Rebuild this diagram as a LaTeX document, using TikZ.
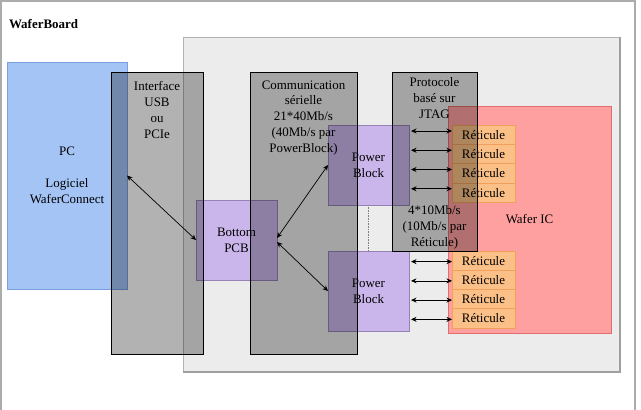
\documentclass[tikz,border=0pt]{standalone}
\usepackage{fontspec}
\setmainfont{Liberation Serif}
\usetikzlibrary{arrows.meta}
\definecolor{pcblue}{RGB}{164,196,246}
\definecolor{pcblueD}{RGB}{120,160,225}
\definecolor{purp}{RGB}{202,182,234}
\definecolor{purpD}{RGB}{150,130,180}
\definecolor{waferred}{RGB}{255,160,160}
\definecolor{waferredD}{RGB}{225,110,110}
\definecolor{reti}{RGB}{250,192,135}
\definecolor{retiD}{RGB}{240,160,90}
\definecolor{panelfill}{RGB}{236,236,236}
\begin{document}
\begin{tikzpicture}[x=1bp,y=-1bp,
  every node/.style={font=\fontsize{13}{16}\selectfont, inner sep=0pt, outer sep=0pt, align=center},
  blk/.style={rectangle, line width=0.8bp},
  panelbox/.style={blk, fill=panelfill, draw=gray!60},
  pcbox/.style={blk, fill=pcblue, draw=pcblueD},
  purpbox/.style={blk, fill=purp, draw=purpD},
  waferbox/.style={blk, fill=waferred, draw=waferredD},
  retibox/.style={blk, fill=reti, draw=retiD, minimum width=63bp, minimum height=19.25bp},
  graybox/.style={blk, fill=black, fill opacity=0.3, draw=black, draw opacity=1},
  lbl/.style={text=black},
  arr/.style={{Stealth[length=5.5bp,width=5bp]}-{Stealth[length=5.5bp,width=5bp]}, line width=0.7bp},
]
\useasboundingbox (0,0) rectangle (641,409);
\clip (0,0) rectangle (641,409);
\draw[gray!65, line width=1.3bp] (1,1) rectangle (635,440);
\node[anchor=west, font=\fontsize{13}{16}\selectfont\bfseries] (title) at (9,24) {WaferBoard};

\node[panelbox, minimum width=436bp, minimum height=334bp] (panel) at (401,204) {};
\draw[gray!75, line width=1.2bp] ([xshift=1bp]panel.north east) -- ([shift={(1bp,-1bp)}]panel.south east) -- ([yshift=-1bp]panel.south west);
\node[pcbox, minimum width=120bp, minimum height=227bp] (pc) at (67,175.5) {PC\\~\\Logiciel\\WaferConnect};
\node[purpbox, minimum width=81bp, minimum height=80bp] (pcb) at (236.5,240) {Bottom\\PCB};
\node[purpbox, minimum width=81bp, minimum height=80bp] (pbt) at (368.5,165) {Power\\Block};
\node[purpbox, minimum width=81bp, minimum height=80bp] (pbb) at (368.5,291) {Power\\Block};
\node[waferbox, minimum width=163bp, minimum height=227bp] (wafer) at (529.5,219.5) {Wafer IC};

\node[retibox] (r1) at (483.5,135) {Réticule};
\node[retibox] (r2) at (483.5,154.25) {Réticule};
\node[retibox] (r3) at (483.5,173.5) {Réticule};
\node[retibox] (r4) at (483.5,192.75) {Réticule};
\node[retibox] (r5) at (483.5,260.6) {Réticule};
\node[retibox] (r6) at (483.5,279.85) {Réticule};
\node[retibox] (r7) at (483.5,299.1) {Réticule};
\node[retibox] (r8) at (483.5,318.35) {Réticule};

\node[graybox, minimum width=92bp, minimum height=282bp] (iface) at (157,213) {};
\node[graybox, minimum width=107bp, minimum height=282bp] (comm) at (303.5,213) {};
\node[graybox, minimum width=85bp, minimum height=179bp] (proto) at (434.5,161.5) {};

\node[lbl] (ifacet) at (157,110) {Interface\\USB\\ou\\PCIe};
\node[lbl] (commt) at (303.5,118) {Communication\\sérielle\\21*40Mb/s\\(40Mb/s par\\PowerBlock)};
\node[lbl] (protot) at (434.5,98) {Protocole\\basé sur\\JTAG};
\node[lbl] (ratet) at (434.5,227) {4*10Mb/s\\(10Mb/s par\\Réticule)};

\draw[gray, densely dotted, line width=0.6bp] (pbt.south) -- (pbb.north);

\draw[arr] (pc.east) -- (pcb.west);
\draw[arr] ([yshift=2bp]pcb.east) -- (pbt.west);
\draw[arr] ([yshift=-2bp]pcb.east) -- (pbb.west);

\foreach \r in {r1,r2,r3,r4}{
  \draw[arr] ([shift={(2bp,4bp)}]pbt.east |- \r.west) -- ([yshift=4bp]\r.west);
}
\foreach \r in {r5,r6,r7,r8}{
  \draw[arr] ([shift={(2bp,-1bp)}]pbb.east |- \r.west) -- ([yshift=-1bp]\r.west);
}
\end{tikzpicture}
\end{document}
